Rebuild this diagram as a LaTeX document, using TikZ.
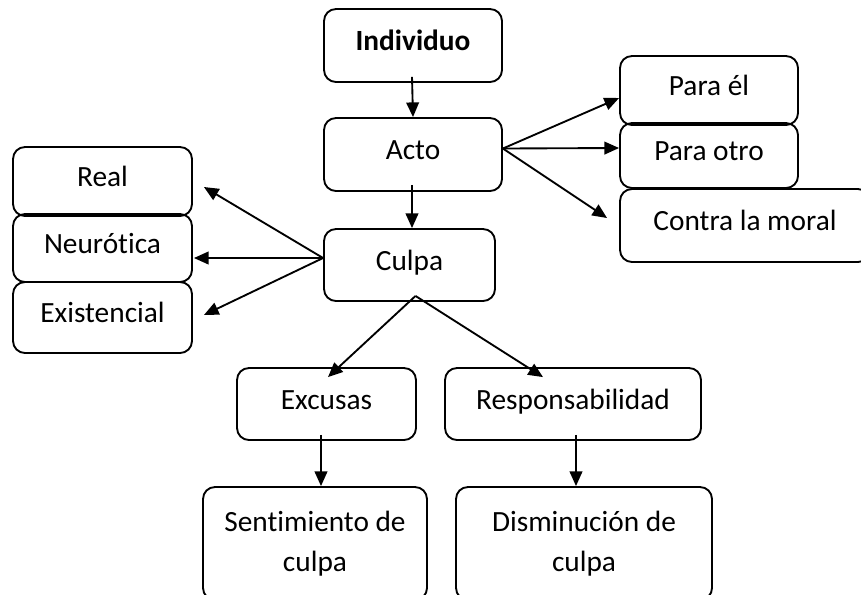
\documentclass[tikz,border=0pt]{standalone}
\usepackage{fontspec}
\setmainfont{Carlito}[Ligatures=NoCommon]
\usepackage{tikz}
\usetikzlibrary{arrows.meta}

\begin{document}
\begin{tikzpicture}[x=0.75pt, y=-0.75pt, font=\fontsize{22}{30}\selectfont]
	\tikzstyle{bigbox} = [draw=black, line width=1.4pt, rounded corners=9pt, inner sep=0pt, align=center]
	\tikzstyle{box} = [bigbox, text height=16pt, text depth=8pt]
	\tikzstyle{arrow} = [draw=black, line width=1.4pt, -{Triangle[length=11pt,width=9.5pt]}]
	\useasboundingbox (0,0) rectangle (861,594);
	\clip (0,0) rectangle (861,594);
		\node[box, minimum width=133.5pt, minimum height=54.75pt] (indiv) at (413,45.5) {\textbf{Individuo}};
		\node[box, minimum width=133.5pt, minimum height=54.75pt] (acto) at (413,154.5) {Acto};
		\node[box, minimum width=128.25pt, minimum height=54pt] (culpa) at (409.5,265) {Culpa};
		\node[box, minimum width=133.5pt, minimum height=51.75pt] (parael) at (709,90.5) {Para él};
		\node[box, minimum width=133.5pt, minimum height=48.75pt] (paraotro) at (709,155.5) {Para otro};
		\node[box, minimum width=187.5pt, minimum height=54.75pt] (contra) at (745,225.5) {Contra la moral};
		\node[box, minimum width=134.25pt, minimum height=51.75pt] (real) at (102.5,181.5) {Real};
		\node[box, minimum width=134.25pt, minimum height=51pt] (neuro) at (102.5,248) {Neurótica};
		\node[box, minimum width=134.25pt, minimum height=53.25pt] (exist) at (102.5,317.5) {Existencial};
		\node[box, minimum width=134.25pt, minimum height=54pt] (excusas) at (326.5,404) {Excusas};
		\node[box, minimum width=192pt, minimum height=54pt] (resp) at (573,404) {Responsabilidad};
		\node[bigbox, minimum width=168pt, minimum height=84.75pt] (sent) at (315,543.5) {Sentimiento de\\culpa};
		\node[bigbox, minimum width=192pt, minimum height=84.75pt] (dism) at (584,543.5) {Disminución de\\culpa};
	\path ([shift={(-1,-6)}]indiv.south) edge[arrow] (acto.north)
	      ([shift={(-1,-7)}]acto.south) edge[arrow] ([shift={(2.5,0)}]culpa.north)
	      ([shift={(0,-6)}]acto.east) edge[arrow] ([shift={(0,7.5)}]parael.west)
	      ([shift={(0,-6)}]acto.east) edge[arrow] ([shift={(0,-7.5)}]paraotro.west)
	      ([shift={(0,-6)}]acto.east) edge[arrow] ([shift={(-12,-7.5)}]contra.west)
	      ([shift={(0,-7)}]culpa.west) edge[arrow] ([shift={(11,5.5)}]real.east)
	      ([shift={(0,-7)}]culpa.west) edge[arrow] ([shift={(1,10)}]neuro.east)
	      ([shift={(0,-7)}]culpa.west) edge[arrow] ([shift={(11,-2.5)}]exist.east)
	      ([shift={(6,-6)}]culpa.south) edge[arrow] ([shift={(1.5,10)}]excusas.north)
	      ([shift={(6,-6)}]culpa.south) edge[arrow] ([shift={(-30,10)}]resp.north)
	      ([shift={(-5.5,-6)}]excusas.south) edge[arrow] ([shift={(6,0)}]sent.north)
	      ([shift={(3,-6)}]resp.south) edge[arrow] ([shift={(-8,0)}]dism.north);
\end{tikzpicture}
\end{document}
